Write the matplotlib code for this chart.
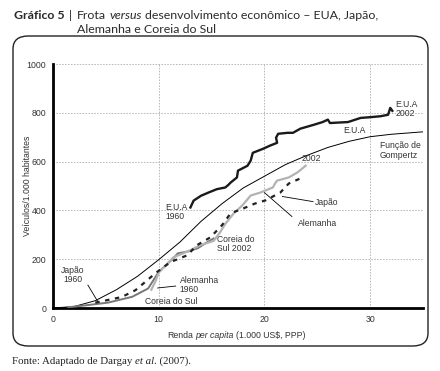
import matplotlib
matplotlib.use("Agg")
import matplotlib.pyplot as plt
from matplotlib.patches import FancyBboxPatch

# ---------------- data ----------------
gompertz_x = [0, 2, 4, 6, 8, 10, 12, 14, 16, 18, 20, 22, 24, 26, 28, 30, 32, 35]
gompertz_y = [0, 6, 30, 75, 130, 198, 270, 355, 428, 492, 540, 588, 625, 658, 683, 702, 712, 722]

eua_x = [13.0, 13.3, 14.0, 14.7, 15.5, 16.3, 16.6, 16.8, 17.4, 17.5, 18.4, 18.7, 18.9, 19.9,
         20.5, 21.2, 21.1, 21.3, 22.2, 22.7, 23.4, 24.6, 25.5, 26.0, 26.2, 27.0, 27.9, 29.1,
         30.0, 31.0, 31.7, 31.9, 32.1]
eua_y = [412, 440, 460, 473, 487, 494, 505, 514, 535, 563, 583, 604, 636, 653,
         665, 677, 698, 714, 718, 718, 735, 750, 762, 772, 758, 760, 762, 779,
         782, 786, 792, 820, 808]

japao_x = [4.0, 5.2, 6.5, 7.8, 8.7, 9.7, 11.1, 12.7, 13.6, 14.9, 16.0, 16.8, 18.0, 19.1,
           20.1, 21.5, 22.3, 23.6]
japao_y = [22, 33, 45, 73, 106, 143, 188, 216, 257, 290, 340, 388, 408, 428,
           441, 473, 510, 535]

alemanha_x = [9.3, 9.7, 10.0, 11.4, 12.3, 13.0, 13.9, 15.2, 15.8, 16.3, 17.1, 17.9, 18.7,
              19.6, 20.8, 21.0, 21.2, 22.3, 23.1, 23.9]
alemanha_y = [75, 110, 145, 208, 224, 237, 257, 275, 310, 345, 388, 420, 461,
              473, 494, 510, 522, 535, 555, 583]

coreia_x = [1.45, 3.3, 5.2, 7.5, 9.0, 9.5, 10.0, 11.4, 11.8, 12.8, 13.7, 14.4, 15.2]
coreia_y = [3, 12, 22, 46, 80, 114, 148, 204, 224, 232, 245, 265, 285]

x_ticks = [0, 10, 20, 30]
y_ticks = [0, 200, 400, 600, 800, 1000]

# ---------------- figure ----------------
W, H = 440, 371
fig = plt.figure(figsize=(W / 100, H / 100), dpi=100)
plt.rcParams['font.family'] = ['Liberation Sans', 'DejaVu Sans']

def fx(px):
    return px / W

def fy(py):
    return 1 - py / H

# rounded frame
frame = FancyBboxPatch((fx(13), fy(346)), fx(428) - fx(13), fy(36) - fy(346),
                       boxstyle="round,pad=0,rounding_size=0.035",
                       transform=fig.transFigure, fill=False, ec='#222222', lw=1.0)
fig.patches.append(frame)

ax = fig.add_axes([fx(53), fy(308), fx(423) - fx(53), fy(64) - fy(308)])
ax.set_xlim(0, 35)
ax.set_ylim(0, 1000)
ax.set_xticks(x_ticks)
ax.set_yticks(y_ticks)
ax.tick_params(length=0, labelsize=6.3, pad=5, colors='#333333')
for s in ['top', 'right']:
    ax.spines[s].set_visible(False)
for s in ['left', 'bottom']:
    ax.spines[s].set_linewidth(2.0)
    ax.spines[s].set_color('black')
ax.grid(True, color='#b8b8b8', lw=0.7, ls=(0, (1.6, 1.4)))
ax.set_axisbelow(True)
ax.patch.set_alpha(0)

ax.plot(gompertz_x, gompertz_y, color='black', lw=0.7, zorder=3)
ax.plot(coreia_x, coreia_y, color='#777777', lw=1.4, zorder=4)
ax.plot(alemanha_x, alemanha_y, color='#b3b3b3', lw=1.6, zorder=5)
ax.plot(japao_x, japao_y, color='#222222', lw=1.6, dashes=(2, 2.5), zorder=6)
ax.plot(eua_x, eua_y, color='#1a1a1a', lw=1.7, zorder=7)

fs = 6.2
tc = '#333333'
ax.text(10.6, 395, "E.U.A\n1960", fontsize=fs, color=tc, ha='left', va='center', linespacing=1.0)
ax.text(32.4, 815, "E.U.A\n2002", fontsize=fs, color=tc, ha='left', va='center', linespacing=1.0)
ax.text(27.5, 726, "E.U.A", fontsize=fs, color=tc, ha='left', va='center')
ax.text(30.9, 645, "Função de\nGompertz", fontsize=fs, color=tc, ha='left', va='center', linespacing=1.1)
ax.text(24.4, 612, "2002", fontsize=fs, color=tc, ha='center', va='center')
ax.text(24.8, 432, "Japão", fontsize=fs, color=tc, ha='left', va='center')
ax.text(23.2, 347, "Alemanha", fontsize=fs, color=tc, ha='left', va='center')
ax.text(15.5, 263, "Coreia do\nSul 2002", fontsize=fs, color=tc, ha='left', va='center', linespacing=1.0)
ax.text(1.9, 135, "Japão\n1960", fontsize=fs, color=tc, ha='center', va='center', linespacing=1.1)
ax.text(12.0, 94, "Alemanha\n1960", fontsize=fs, color=tc, ha='left', va='center', linespacing=1.0)
ax.text(8.7, 25, "Coreia do Sul", fontsize=fs, color=tc, ha='left', va='center')

# pointer lines
ax.plot([21.7, 24.6], [457, 436], color='black', lw=0.6, zorder=8)
ax.plot([20.0, 22.6], [473, 375], color='black', lw=0.6, zorder=8)
ax.plot([3.3, 4.2], [94, 29], color='black', lw=0.6, zorder=8)
ax.plot([9.9, 11.6], [82, 90], color='black', lw=0.6, zorder=8)

ax.set_ylabel("Veículos/1.000 habitantes", fontsize=6.3, color=tc)
ax.yaxis.set_label_coords((32 - 53) / 370, 0.5)

fig.canvas.draw()
renderer = fig.canvas.get_renderer()

def rich(x_px, y_px, parts, **common):
    x = x_px
    for txt, props in parts:
        kw = dict(common)
        kw.update(props)
        t = fig.text(fx(x), fy(y_px), txt, ha='left', va='baseline', **kw)
        bb = t.get_window_extent(renderer)
        x += bb.width
    return x

def space_w(**kw):
    a = fig.text(0, 0, "a a", **kw)
    b = fig.text(0, 0, "aa", **kw)
    w = a.get_window_extent(renderer).width - b.get_window_extent(renderer).width
    a.remove(); b.remove()
    return w

# x label
xl = dict(fontsize=6.3, color=tc, family=['Liberation Sans', 'DejaVu Sans'])
sp = space_w(**xl)
x0 = 167
x0 = rich(x0, 338, [("Renda", {})], **xl) + sp
x0 = rich(x0, 338, [("per capita", {'style': 'italic'})], **xl) + sp
rich(x0, 338, [("(1.000 US$, PPP)", {})], **xl)

# title
tl = dict(fontsize=8.9, color='#2a2a2a', family=['Lato', 'DejaVu Sans'])
sp = space_w(**tl)
x0 = 14
x0 = rich(x0, 19, [("Gráfico 5", {'weight': 'bold'})], **tl) + sp * 1.5
x0 = rich(x0, 19, [("|", {})], **tl) + sp * 1.5
x_line2 = x0
x0 = rich(x0, 19, [("Frota", {})], **tl) + sp
x0 = rich(x0, 19, [("versus", {'style': 'italic'})], **tl) + sp
rich(x0, 19, [("desenvolvimento econômico – EUA, Japão,", {})], **tl)
rich(x_line2, 33, [("Alemanha e Coreia do Sul", {})], **tl)

# footer
ft = dict(fontsize=7.8, color='#222222', family=['Liberation Serif', 'DejaVu Serif'])
sp = space_w(**ft)
x0 = 12
x0 = rich(x0, 364, [("Fonte: Adaptado de Dargay", {})], **ft) + sp
x0 = rich(x0, 364, [("et al", {'style': 'italic'})], **ft)
rich(x0, 364, [(". (2007).", {})], **ft)

fig.savefig("out.png", dpi=100)
